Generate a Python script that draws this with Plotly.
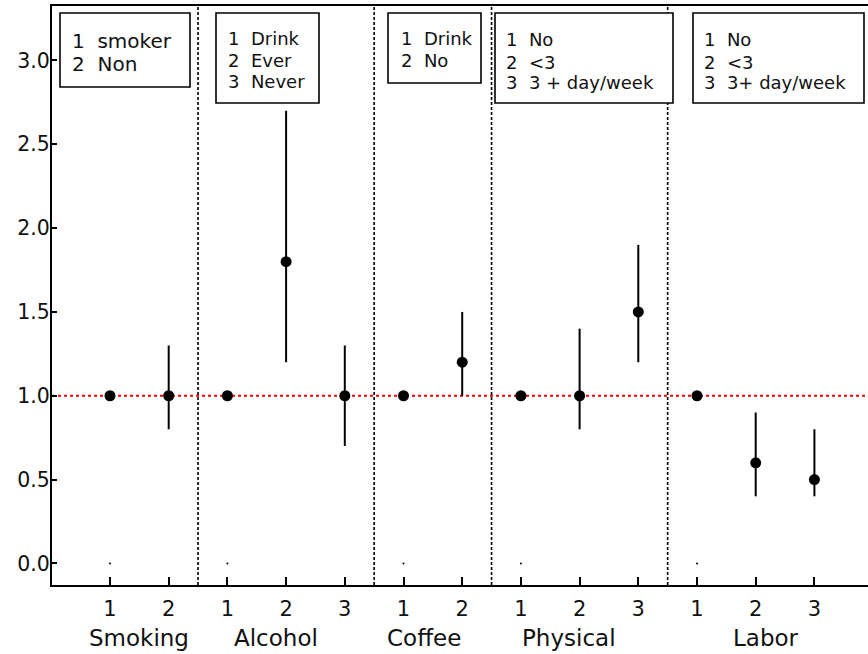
import plotly.graph_objects as go

# ---------------- data ----------------
groups = ["Smoking", "Alcohol", "Coffee", "Physical", "Labor"]
levels = ["1", "2", "1", "2", "3", "1", "2", "1", "2", "3", "1", "2", "3"]
positions = list(range(1, 14))
estimates = [1.0, 1.0, 1.0, 1.8, 1.0, 1.0, 1.2, 1.0, 1.0, 1.5, 1.0, 0.6, 0.5]
lower = [None, 0.8, None, 1.2, 0.7, None, 1.0, None, 0.8, 1.2, None, 0.4, 0.4]
upper = [None, 1.3, None, 2.7, 1.3, None, 1.5, None, 1.4, 1.9, None, 0.9, 0.8]
reference_positions = [1, 3, 6, 8, 11]
separators = [2.5, 5.5, 7.5, 10.5]
y_ticks = [0.0, 0.5, 1.0, 1.5, 2.0, 2.5, 3.0]
legend_texts = [
    ["1\u00a0\u00a0smoker", "2\u00a0\u00a0Non"],
    ["1\u00a0\u00a0Drink", "2\u00a0\u00a0Ever", "3\u00a0\u00a0Never"],
    ["1\u00a0\u00a0Drink", "2\u00a0\u00a0No"],
    ["1\u00a0\u00a0No", "2\u00a0\u00a0<3", "3\u00a0\u00a03 + day/week"],
    ["1\u00a0\u00a0No", "2\u00a0\u00a0<3", "3\u00a0\u00a03+ day/week"],
]

# ---------------- layout geometry ----------------
W, H = 868, 654
ML, MR, MT, MB = 52, 0, 6, 69
PW, PH = W - ML - MR, H - MT - MB
FONT = "DejaVu Sans, Verdana, sans-serif"


def px(x):
    return (x - ML) / PW


def py(y):
    return 1 - (y - MT) / PH


fig = go.Figure()

err_plus = [None if u is None else u - e for u, e in zip(upper, estimates)]
err_minus = [None if l is None else e - l for l, e in zip(lower, estimates)]

fig.add_trace(go.Scatter(
    x=positions, y=estimates, mode="markers",
    marker=dict(color="black", size=11),
    error_y=dict(type="data", symmetric=False,
                 array=[0 if v is None else v for v in err_plus],
                 arrayminus=[0 if v is None else v for v in err_minus],
                 color="black", thickness=2, width=0),
    showlegend=False, hoverinfo="skip",
))

fig.add_trace(go.Scatter(
    x=reference_positions, y=[0] * len(reference_positions), mode="markers",
    marker=dict(color="black", size=2), showlegend=False, hoverinfo="skip",
))

shapes = []
for s in separators:
    shapes.append(dict(type="line", xref="x", yref="paper", x0=s, x1=s, y0=0, y1=1,
                       layer="below",
                       line=dict(color="black", width=1.6, dash="3px,2px")))
shapes.append(dict(type="line", xref="paper", yref="y", x0=0, x1=1, y0=1, y1=1,
                   layer="below",
                   line=dict(color="red", width=1.8, dash="3px,3px")))

# legend boxes (pixel geometry)
boxes = [
    dict(x0=60, x1=190, y0=13, y1=87, tx=70, ys=[41, 64], fs=20),
    dict(x0=216, x1=319, y0=13, y1=103, tx=226, ys=[39, 61, 82], fs=18),
    dict(x0=388, x1=481, y0=13, y1=83, tx=399, ys=[39, 61], fs=18),
    dict(x0=495, x1=673, y0=13, y1=103, tx=504, ys=[40, 62, 83], fs=18),
    dict(x0=693, x1=864, y0=13, y1=103, tx=702, ys=[40, 62, 83], fs=18),
]
annotations = []
for b, lines in zip(boxes, legend_texts):
    shapes.append(dict(type="rect", xref="paper", yref="paper",
                       x0=px(b["x0"]), x1=px(b["x1"]), y0=py(b["y1"]), y1=py(b["y0"]),
                       line=dict(color="black", width=1.6), fillcolor="white", layer="above"))
    for t, yy in zip(lines, b["ys"]):
        annotations.append(dict(text=t, xref="paper", yref="paper", x=px(b["tx"]), y=py(yy),
                                xanchor="left", yanchor="middle", showarrow=False,
                                font=dict(family=FONT, size=b["fs"], color="#111")))

group_label_x = [1.49, 3.83, 6.35, 8.82, 12.18]
for g, gx in zip(groups, group_label_x):
    annotations.append(dict(text=g, xref="x", yref="paper", x=gx, y=py(638),
                            xanchor="center", yanchor="middle", showarrow=False,
                            font=dict(family=FONT, size=23, color="#111")))

x0r = 1 - 58 / 58.7
fig.update_layout(
    width=W, height=H,
    margin=dict(l=ML, r=MR, t=MT, b=MB, pad=0, autoexpand=False),
    paper_bgcolor="white", plot_bgcolor="white",
    shapes=shapes, annotations=annotations, hovermode=False,
    xaxis=dict(range=[x0r, x0r + PW / 58.7], tickvals=positions, ticktext=levels,
               ticks="inside", ticklen=8, tickwidth=1.5, tickcolor="black",
               showline=True, linecolor="black", linewidth=2, mirror=True,
               showgrid=False, zeroline=False, ticklabelstandoff=4,
               tickfont=dict(family=FONT, size=21, color="#111")),
    yaxis=dict(range=[-0.129, 3.325], tickvals=y_ticks,
               ticktext=[f"{v:.1f}" for v in y_ticks],
               ticks="inside", ticklen=5, tickwidth=1.5, tickcolor="black",
               showline=True, linecolor="black", linewidth=2,
               showgrid=False, zeroline=False, ticklabelstandoff=-4,
               tickfont=dict(family=FONT, size=20.5, color="#111")),
)

fig.write_html("out.html", config={"displayModeBar": False},
               post_script="document.body.style.margin='0px';")
